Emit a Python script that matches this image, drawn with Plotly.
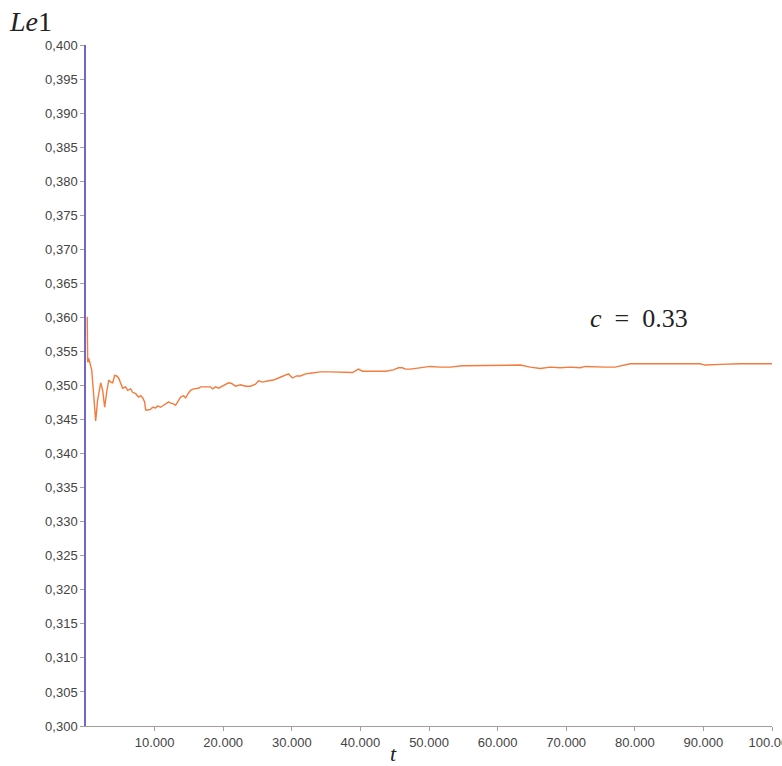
import plotly.graph_objects as go

# Running estimate Le1 over time t
t = [175, 250, 390, 610, 830, 1120, 1410, 1700, 2140, 2430, 2720, 3010, 3310, 3600,
     3890, 4180, 4470, 4760, 5050, 5340, 5780, 6070, 6510, 6800, 7240, 7670, 7970,
     8260, 8550, 8690, 8980, 9420, 9710, 10150, 10440, 10880, 11310, 11610, 12040,
     12330, 12770, 13060, 13500, 13790, 14230, 14520, 14950, 15250, 15680, 15970,
     16410, 16700, 17430, 18160, 18450, 18890, 19330, 19910, 20780, 21220, 21800,
     22530, 23250, 23980, 24710, 25150, 25730, 26600, 27330, 28060, 28790, 29520,
     30100, 30690, 31270, 31990, 32720, 33450, 34180, 35630, 37090, 38260, 38840,
     39710, 40300, 41170, 42190, 43650, 44810, 45540, 46120, 46560, 47290, 48450,
     49470, 50200, 51650, 53110, 54860, 56020, 57480, 58930, 60390, 61850, 63300,
     64760, 66220, 67670, 69130, 70590, 72040, 72770, 74230, 75680, 77140, 78160,
     79330, 80780, 82240, 83700, 85150, 86610, 88070, 89520, 90250, 91270, 92440,
     95350, 100000]
le1 = [0.3601, 0.3534, 0.3540, 0.3532, 0.3523, 0.3486, 0.3448, 0.3479, 0.3504,
       0.3493, 0.3468, 0.3490, 0.3508, 0.3505, 0.3504, 0.3515, 0.3514, 0.3511,
       0.3504, 0.3496, 0.3498, 0.3493, 0.3495, 0.3490, 0.3488, 0.3483, 0.3485,
       0.3482, 0.3476, 0.3464, 0.3464, 0.3465, 0.3468, 0.3467, 0.3470, 0.3468,
       0.3471, 0.3473, 0.3476, 0.3474, 0.3473, 0.3471, 0.3479, 0.3483, 0.3485,
       0.3482, 0.3489, 0.3493, 0.3495, 0.3495, 0.3496, 0.3498, 0.3498, 0.3498,
       0.3495, 0.3498, 0.3496, 0.3499, 0.3504, 0.3503, 0.3499, 0.3501, 0.3499,
       0.3499, 0.3502, 0.3507, 0.3505, 0.3507, 0.3508, 0.3511, 0.3514, 0.3517,
       0.3511, 0.3514, 0.3514, 0.3517, 0.3518, 0.3519, 0.3520, 0.3520, 0.3520,
       0.3520, 0.3519, 0.3524, 0.3521, 0.3521, 0.3521, 0.3521, 0.3523, 0.3526,
       0.3526, 0.3524, 0.3524, 0.3526, 0.3527, 0.3528, 0.3527, 0.3527, 0.3529,
       0.3529, 0.3530, 0.3530, 0.3530, 0.3530, 0.3530, 0.3527, 0.3525, 0.3527,
       0.3526, 0.3527, 0.3526, 0.3528, 0.3527, 0.3527, 0.3527, 0.3529, 0.3532,
       0.3532, 0.3532, 0.3533, 0.3532, 0.3532, 0.3532, 0.3532, 0.3530, 0.3530,
       0.3531, 0.3532, 0.3532]

x_ticks = [10000, 20000, 30000, 40000, 50000, 60000, 70000, 80000, 90000, 100000]
c_value = 0.33

fig = go.Figure()
fig.add_trace(go.Scatter(
    x=t, y=le1, mode="lines",
    line=dict(color="#F47B3E", width=1.4),
    showlegend=False, hoverinfo="skip",
))

tick_font = dict(family="Liberation Sans, Arial, sans-serif", size=13, color="#444444")
serif = "Liberation Serif, Times New Roman, serif"

fig.update_layout(
    width=782, height=766,
    margin=dict(l=86, r=10, t=45, b=40),
    paper_bgcolor="white", plot_bgcolor="white",
    separators=",.",
    font=dict(family="Liberation Sans, Arial, sans-serif", size=13, color="#444444"),
    xaxis=dict(
        range=[0, 100000], tickvals=x_ticks, tickformat=",d",
        showgrid=False, zeroline=False, automargin=False,
        showline=True, linecolor="#A89C9C", linewidth=1,
        ticks="outside", ticklen=4, tickcolor="#A89C9C",
        tickfont=tick_font, ticklabeloverflow="allow",
    ),
    yaxis=dict(
        range=[0.300, 0.400], dtick=0.005, tick0=0.300, tickformat=".3f",
        showgrid=False, zeroline=False, automargin=False,
        showline=True, linecolor="#7466C4", linewidth=1.5,
        ticks="outside", ticklen=4, tickcolor="#A89C9C",
        tickfont=tick_font,
    ),
    annotations=[
        dict(text="<i>Le</i>1", xref="paper", yref="paper",
             x=-0.115, y=1.034, xanchor="left", yanchor="middle",
             showarrow=False,
             font=dict(family=serif, size=28, color="#222222")),
        dict(text="<i>t</i>", xref="paper", yref="paper",
             x=0.448, y=-0.04, xanchor="center", yanchor="middle",
             showarrow=False,
             font=dict(family=serif, size=22, color="#222222")),
        dict(text=f"<i>c</i>\u2002=\u2002{c_value:.2f}", xref="x", yref="y",
             x=80600, y=0.3599, xanchor="center", yanchor="middle",
             showarrow=False,
             font=dict(family=serif, size=26, color="#222222")),
    ],
)

fig.write_html("out.html")
